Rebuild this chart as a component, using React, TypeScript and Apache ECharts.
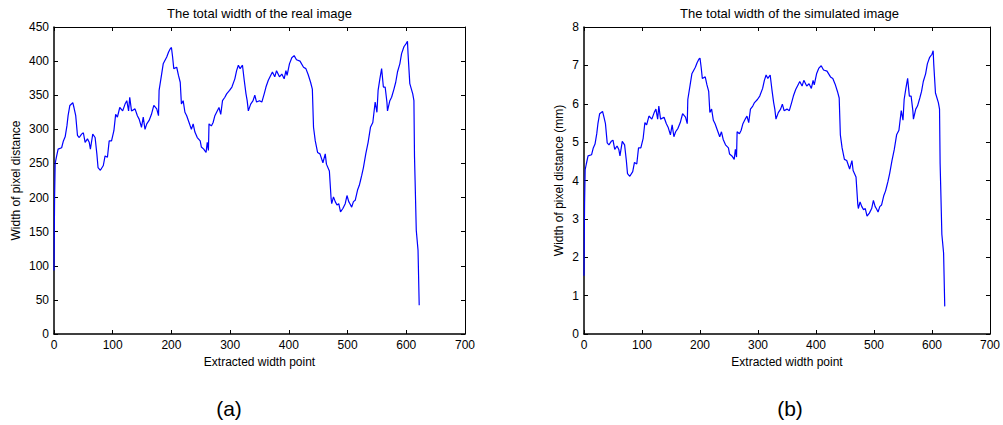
import React, { useEffect, useRef } from "react";
import * as echarts from "echarts";

const pointIndex = [
  0, 1, 2, 4, 7, 13, 16, 19, 22, 24,
  27, 32, 34, 37, 40, 43, 47, 50, 53, 57,
  60, 62, 66, 70, 73, 75, 79, 84, 87, 91,
  94, 98, 102, 105, 108, 112, 117, 121, 124, 127,
  129, 132, 138, 142, 145, 149, 152, 155, 158, 162,
  166, 170, 175, 178, 179, 183, 186, 192, 195, 198,
  200, 202, 204, 209, 212, 215, 217, 220, 223, 226,
  230, 234, 237, 240, 244, 249, 251, 255, 259, 261,
  263, 264, 268, 271, 274, 278, 281, 284, 287, 291,
  294, 299, 303, 308, 311, 314, 317, 321, 324, 327,
  329, 331, 335, 339, 342, 345, 350, 354, 358, 361,
  365, 369, 372, 376, 379, 384, 388, 392, 395, 397,
  401, 405, 409, 413, 419, 425, 429, 433, 437, 440,
  442, 445, 449, 453, 458, 462, 464, 469, 472, 473,
  476, 479, 482, 485, 488, 492, 496, 499, 502, 504,
  507, 510, 513, 517, 520, 522, 524, 527, 531, 535,
  539, 543, 547, 550, 552, 555, 558, 561, 564, 567,
  568, 572, 575, 579, 582, 585, 589, 592, 596, 600,
  602, 603, 606, 611, 613, 614, 615, 617, 620, 622,
];

const realWidth = [
  93, 200, 250, 259, 271, 273, 283, 289, 305, 320,
  335, 339, 332, 320, 291, 288, 293, 295, 281, 286,
  281, 271, 293, 288, 264, 244, 240, 247, 261, 259,
  283, 283, 298, 322, 318, 332, 327, 337, 342, 327,
  347, 327, 330, 320, 315, 303, 318, 300, 308, 313,
  322, 335, 330, 320, 357, 379, 396, 406, 413, 418,
  420, 406, 389, 391, 379, 369, 337, 342, 325, 320,
  310, 300, 308, 296, 288, 283, 274, 271, 266, 281,
  269, 308, 305, 310, 320, 327, 332, 322, 342, 347,
  352, 357, 362, 374, 386, 394, 389, 394, 372, 352,
  342, 327, 337, 342, 350, 340, 342, 340, 352, 362,
  372, 379, 384, 377, 386, 377, 381, 374, 386, 379,
  396, 405, 408, 402, 400, 391, 389, 380, 369, 359,
  303, 283, 266, 264, 251, 264, 249, 239, 198, 191,
  201, 194, 189, 191, 179, 184, 191, 203, 194, 191,
  186, 194, 196, 211, 218, 225, 232, 244, 264, 281,
  303, 310, 340, 325, 357, 374, 389, 362, 362, 340,
  327, 342, 347, 359, 369, 384, 396, 411, 421, 426,
  429, 411, 367, 352, 342, 260, 225, 152, 123, 42,
];

const simWidth = [
  1.52, 3.42, 4.28, 4.43, 4.64, 4.67, 4.85, 4.95, 5.22, 5.48,
  5.74, 5.80, 5.68, 5.48, 4.98, 4.93, 5.02, 5.05, 4.81, 4.90,
  4.81, 4.64, 5.02, 4.93, 4.52, 4.18, 4.11, 4.23, 4.47, 4.43,
  4.85, 4.85, 5.10, 5.51, 5.45, 5.68, 5.60, 5.77, 5.86, 5.60,
  5.94, 5.60, 5.65, 5.48, 5.39, 5.19, 5.45, 5.14, 5.27, 5.36,
  5.51, 5.74, 5.65, 5.48, 6.11, 6.49, 6.78, 6.95, 7.07, 7.16,
  7.19, 6.95, 6.66, 6.70, 6.49, 6.32, 5.77, 5.86, 5.57, 5.48,
  5.31, 5.14, 5.27, 5.07, 4.93, 4.85, 4.69, 4.64, 4.55, 4.81,
  4.61, 5.27, 5.22, 5.31, 5.48, 5.60, 5.68, 5.51, 5.86, 5.94,
  6.03, 6.11, 6.20, 6.40, 6.61, 6.75, 6.66, 6.75, 6.37, 6.03,
  5.86, 5.60, 5.77, 5.86, 5.99, 5.82, 5.86, 5.82, 6.03, 6.20,
  6.37, 6.49, 6.58, 6.46, 6.61, 6.46, 6.52, 6.40, 6.61, 6.49,
  6.78, 6.93, 6.99, 6.88, 6.85, 6.70, 6.66, 6.51, 6.32, 6.15,
  5.19, 4.85, 4.55, 4.52, 4.30, 4.52, 4.26, 4.09, 3.39, 3.27,
  3.44, 3.32, 3.24, 3.27, 3.07, 3.15, 3.27, 3.48, 3.32, 3.27,
  3.18, 3.32, 3.36, 3.61, 3.73, 3.85, 3.97, 4.18, 4.52, 4.81,
  5.19, 5.31, 5.82, 5.57, 6.11, 6.40, 6.66, 6.20, 6.20, 5.82,
  5.60, 5.86, 5.94, 6.15, 6.32, 6.58, 6.78, 7.04, 7.21, 7.29,
  7.38, 7.04, 6.28, 6.03, 5.86, 4.45, 3.85, 2.60, 2.11, 0.72,
];

const titles = ["The total width of the real image", "The total width of the simulated image"];
const xName = "Extracted width point";
const yNames = ["Width of pixel distance", "Width of pixel distance (mm)"];
const panelLabels = ["(a)", "(b)"];
const xRange = { min: 0, max: 700, interval: 100 };
const yRanges = [
  { min: 0, max: 450, interval: 50 },
  { min: 0, max: 8, interval: 1 },
];

const FONT = "'Liberation Sans', Arial, Helvetica, sans-serif";

export default function App() {
  const ref = useRef<HTMLDivElement>(null);

  useEffect(() => {
    if (!ref.current) return;
    const chart = echarts.init(ref.current, null, { renderer: "svg" });

    const gridLefts = [54, 584];
    const gridW = 411;
    const gridH = 307;
    const gridTop = 27;

    const zip = (ys: number[]) => {
      const n = Math.min(pointIndex.length, ys.length);
      const out: number[][] = [];
      for (let i = 0; i < n; i++) out.push([pointIndex[i], ys[i]]);
      return out;
    };

    const labelStyle = { color: "#000", fontSize: 12, fontFamily: FONT };
    const xAxes: any[] = [];
    const yAxes: any[] = [];
    [0, 1].forEach((g) => {
      xAxes.push({
        type: "value",
        gridIndex: g,
        position: "bottom",
        ...xRange,
        name: xName,
        nameLocation: "middle",
        nameGap: 20,
        nameTextStyle: { color: "#000", fontSize: 12, fontFamily: FONT },
        axisLine: { show: true, onZero: false, lineStyle: { color: "#000", width: 1.5 } },
        axisTick: { show: true, inside: true, length: 4, lineStyle: { color: "#000" } },
        axisLabel: { ...labelStyle, margin: 5, showMaxLabel: true, showMinLabel: true },
        splitLine: { show: false },
      });
      xAxes.push({
        type: "value",
        gridIndex: g,
        position: "top",
        ...xRange,
        axisLine: { show: true, onZero: false, lineStyle: { color: "#000", width: 1 } },
        axisTick: { show: true, inside: true, length: 4, lineStyle: { color: "#000" } },
        axisLabel: { show: false },
        splitLine: { show: false },
      });
      yAxes.push({
        type: "value",
        gridIndex: g,
        position: "left",
        ...yRanges[g],
        name: yNames[g],
        nameLocation: "middle",
        nameGap: g === 0 ? 32 : 19,
        nameTextStyle: { color: "#000", fontSize: 12, fontFamily: FONT },
        axisLine: { show: true, onZero: false, lineStyle: { color: "#000", width: 1.5 } },
        axisTick: { show: true, inside: true, length: 4, lineStyle: { color: "#000" } },
        axisLabel: { ...labelStyle, margin: 5, showMaxLabel: true, showMinLabel: true },
        splitLine: { show: false },
      });
      yAxes.push({
        type: "value",
        gridIndex: g,
        position: "right",
        ...yRanges[g],
        axisLine: { show: true, onZero: false, lineStyle: { color: "#000", width: 1 } },
        axisTick: { show: true, inside: true, length: 4, lineStyle: { color: "#000" } },
        axisLabel: { show: false },
        splitLine: { show: false },
      });
    });

    chart.setOption({
      animation: false,
      backgroundColor: "#fff",
      grid: gridLefts.map((l) => ({ left: l, top: gridTop, width: gridW, height: gridH })),
      xAxis: xAxes,
      yAxis: yAxes,
      graphic: [
        ...titles.map((t, i) => ({
          type: "text",
          x: gridLefts[i] + gridW / 2,
          y: 13,
          style: {
            text: t,
            fill: "#000",
            fontSize: 13,
            fontFamily: FONT,
            align: "center",
            verticalAlign: "middle",
          },
        })),
        ...panelLabels.map((t, i) => ({
          type: "text",
          x: i === 0 ? 229 : 790,
          y: 408,
          style: {
            text: t,
            fill: "#000",
            fontSize: 21,
            fontFamily: FONT,
            align: "center",
            verticalAlign: "middle",
          },
        })),
      ],
      series: [
        {
          type: "line",
          xAxisIndex: 0,
          yAxisIndex: 0,
          data: zip(realWidth),
          showSymbol: false,
          symbol: "none",
          lineStyle: { color: "#0000ff", width: 1.2 },
        },
        {
          type: "line",
          xAxisIndex: 2,
          yAxisIndex: 2,
          data: zip(simWidth),
          showSymbol: false,
          symbol: "none",
          lineStyle: { color: "#0000ff", width: 1.2 },
        },
      ],
    });

    return () => chart.dispose();
  }, []);

  return (
    <div
      ref={ref}
      style={{ position: "fixed", left: 0, top: 0, width: 1003, height: 425, background: "#fff" }}
    />
  );
}
